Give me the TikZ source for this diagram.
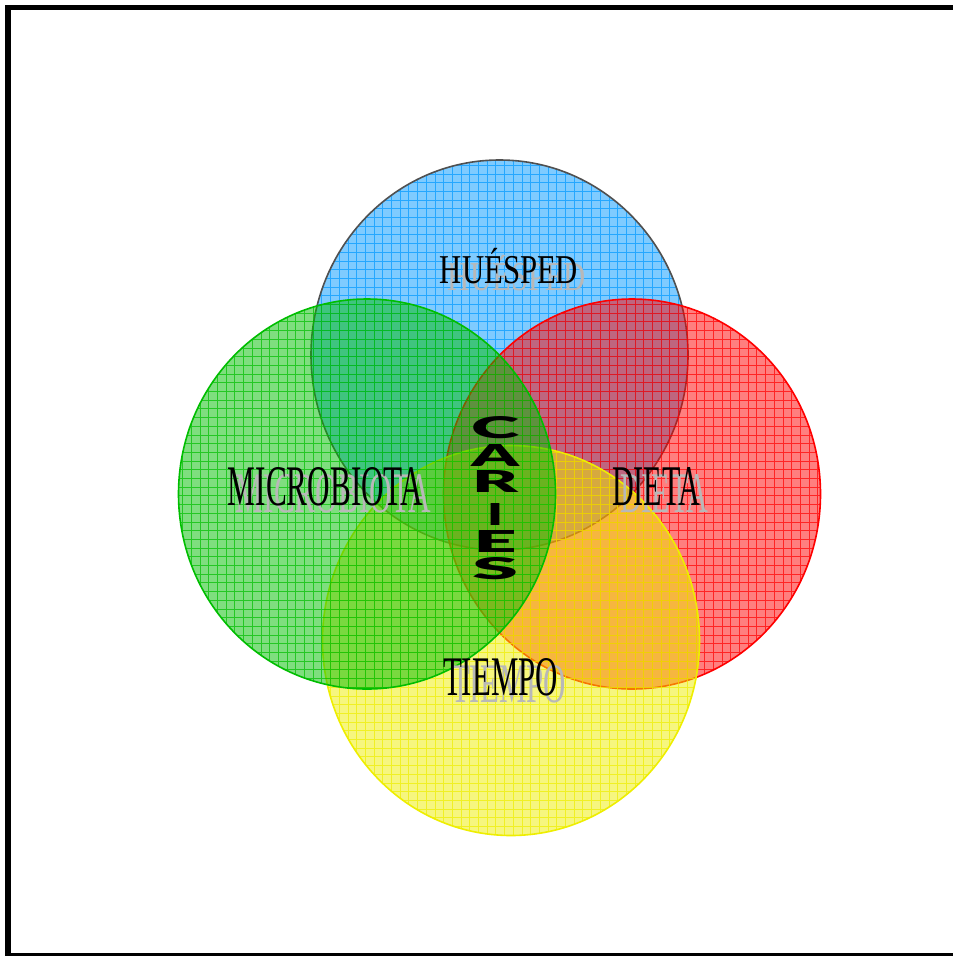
\documentclass[tikz,border=0pt]{standalone}
\usepackage{fontspec}
\setmainfont{Liberation Serif}
\newfontfamily\heavyfont{Lato}[UprightFont=* Black]
\usepackage{tikz}
\definecolor{hostblue}{RGB}{0,153,255}
\definecolor{hostedge}{RGB}{80,80,80}
\definecolor{dietred}{RGB}{255,0,0}
\definecolor{timeyellow}{RGB}{238,238,0}
\definecolor{microgreen}{RGB}{0,190,0}
\tikzset{
  factorname/.style={inner sep=0pt, anchor=base, font=\fontsize{41}{41}\selectfont},
  ghost/.style={factorname, text=black!28},
  letter/.style={inner sep=0pt, font=\heavyfont\fontsize{30}{30}\selectfont},
  rim/.style={line width=1.6pt},
}
\newcommand\squeeze[3]{\resizebox{#1pt}{#2pt}{#3}}

\begin{document}
\begin{tikzpicture}[x=1pt,y=-1pt]
  \clip (0,0) rectangle (953,956);
  \useasboundingbox (0,0) rectangle (953,956);
  \fill[white] (0,0) rectangle (953,956);
  \draw[line width=5.5pt] (8,7.5) rectangle (970,956);

  % the four lobes, filled and gridded
  \foreach \cx/\cy/\col/\edge in {499.5/355/hostblue/hostedge, 632/494/dietred/dietred,
                                   511/640.5/timeyellow/timeyellow, 367/494/microgreen/microgreen} {
    \begin{scope}
      \clip (\cx,\cy) ellipse [x radius=188.5, y radius=195];
      \fill[\col, fill opacity=0.5] (\cx-190,\cy-197) rectangle (\cx+190,\cy+197);
      \draw[\col, opacity=0.7, line width=0.9pt, step=8.7pt] (\cx-190,\cy-197) grid (\cx+190,\cy+197);
    \end{scope}
    \draw[\edge, rim] (\cx,\cy) ellipse [x radius=188.5, y radius=195];
  }

  % names with their grey shadows
  \node[ghost] (hostshade) at (517,290) {\scalebox{0.75}[1]{HUÉSPED}};
  \node[factorname] (host) at (509,283) {\scalebox{0.75}[1]{HUÉSPED}};
  \node[ghost] (microshade) at (333.5,512) {\squeeze{195}{38}{MICROBIOTA}};
  \node[factorname] (micro) at (325.5,505) {\squeeze{195}{38}{MICROBIOTA}};
  \node[ghost] (dietshade) at (664,512) {\squeeze{88}{38}{DIETA}};
  \node[factorname] (diet) at (656,505) {\squeeze{88}{38}{DIETA}};
  \node[ghost] (timeshade) at (508.5,702) {\squeeze{115}{37}{TIEMPO}};
  \node[factorname] (time) at (500.5,695) {\squeeze{115}{37}{TIEMPO}};

  % CARIES, one letter under the other
  \foreach \ch/\y/\w [count=\k] in {C/428/48, A/455/48, R/481.5/46, I/514/16, E/541/43, S/569/46}
    \node[letter] (caries\k) at (495,\y) {\squeeze{\w}{22}{\ch}};
\end{tikzpicture}
\end{document}
